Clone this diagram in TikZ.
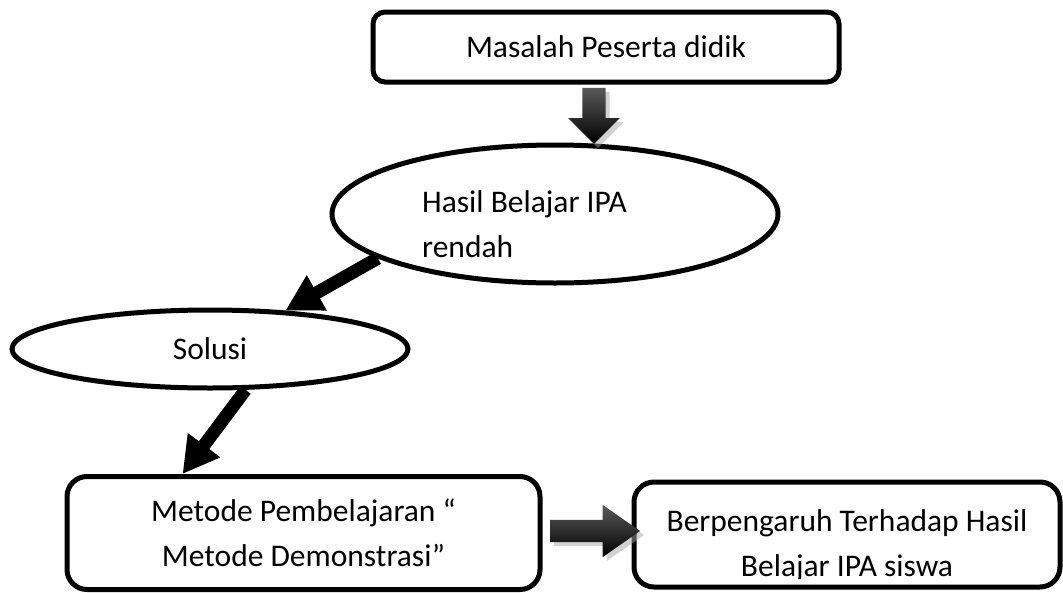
\documentclass[tikz,border=0pt]{standalone}
\usepackage{fontspec}
\setmainfont{Carlito}
\usetikzlibrary{shapes.geometric, shapes.arrows, arrows.meta, shadows}

\begin{document}
\begin{tikzpicture}[x=1pt, y=-1pt,
    box/.style={draw, line width=5pt, rounded corners=20pt, align=center},
    oval/.style={draw, ellipse, line width=5pt},
    fat/.style={line width=13pt, -{Triangle[width=38pt, length=36pt]}},
    block/.style={single arrow, inner xsep=0pt, shading=axis, top color=black!65, bottom color=black,
      drop shadow={shadow xshift=4pt, shadow yshift=-4pt, fill=black!35}},
    font=\fontsize{31.5}{45}\selectfont]
  \useasboundingbox (0,0) rectangle (1063,592);
  \node[box, rounded corners=12pt, minimum width=466pt, minimum height=70pt] (masalah) at (606,47) {Masalah Peserta didik};
  \node[oval, minimum width=446pt, minimum height=138pt] (hasil) at (555,214) {};
  \node[align=left, anchor=west, inner sep=0pt] (hasiltext) at (422,224.5) {Hasil Belajar IPA\\rendah};
  \node[oval, minimum width=396pt, minimum height=78pt] (solusi) at (210,349) {Solusi};
  \node[box, minimum width=473pt, minimum height=113pt] (metode) at (303.5,533) {Metode Pembelajaran “\\ Metode Demonstrasi”};
  \node[box, minimum width=426pt, minimum height=105pt] (pengaruh) at (847,534.5) {};
  % teks bawah terpotong seperti aslinya
  \begin{scope}
    \clip (636,484) rectangle (1058,578);
    \node[align=center] (pengaruhtext) at (847,546) {Berpengaruh Terhadap Hasil\\Belajar IPA siswa};
  \end{scope}
  \node[block, rotate=-90, minimum height=56pt, inner ysep=11.5pt, single arrow head extend=14pt] (turun) at (594,110) {};
  \node[block, minimum height=90pt, inner ysep=11pt, single arrow head extend=15pt, single arrow tip angle=70] (kanan) at (587,531) {};
  \draw[fat] (hasil.194) -- (solusi.27);
  \draw[fat] (solusi.-49) -- (metode.154);
\end{tikzpicture}
\end{document}
